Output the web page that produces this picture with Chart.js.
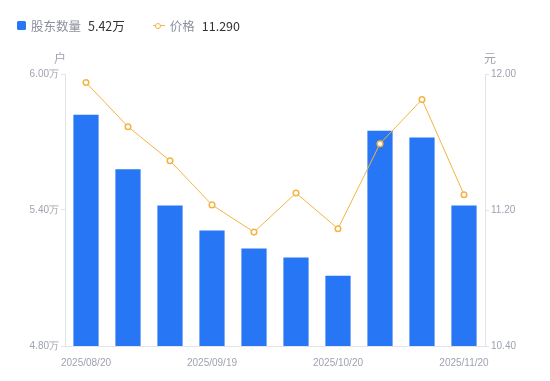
<!DOCTYPE html>
<html>
<head>
<meta charset="utf-8">
<script src="https://cdn.jsdelivr.net/npm/chart.js@4/dist/chart.umd.min.js"></script>
<style>
  html, body { margin: 0; padding: 0; background: #fff; }
  body { width: 550px; height: 381px; position: relative; overflow: hidden; font-family: "Noto Sans CJK SC", "Noto Sans", sans-serif; }
  #wrap { position: absolute; left: 0; top: 0; width: 550px; height: 381px; }
  .legend { position: absolute; top: 16px; left: 17px; font-size: 12.5px; display: flex; align-items: center; white-space: nowrap; }
  .legend .item { display: flex; align-items: center; margin-right: 28px; }
  .legend .sq { width: 9px; height: 9px; background: #2776f6; border-radius: 1.5px; margin-right: 5px; }
  .legend .ln { position: relative; width: 12px; height: 9px; margin-right: 5px; }
  .legend .ln::before { content: ""; position: absolute; left: 0; right: 0; top: 4px; height: 1px; background: #f5b342; }
  .legend .ln::after { content: ""; position: absolute; left: 2.5px; top: 1.5px; width: 4px; height: 4px; border: 1.5px solid #f5b342; border-radius: 50%; background: #fff; }
  .legend .name { color: #8c909c; margin-right: 7px; }
  .legend .val { color: #333; }
</style>
</head>
<body>
<div id="wrap"><canvas id="c" width="550" height="381"></canvas></div>
<div class="legend">
  <div class="item"><span class="sq"></span><span class="name">股东数量</span><span class="val" id="v1"></span></div>
  <div class="item"><span class="ln"></span><span class="name">价格</span><span class="val" id="v2"></span></div>
</div>
<script>
// 数据
const dates = ['2025/08/20', '2025/08/31', '2025/09/10', '2025/09/19', '2025/09/30',
               '2025/10/10', '2025/10/20', '2025/10/31', '2025/11/10', '2025/11/20'];
const holders = [5.82, 5.58, 5.42, 5.31, 5.23, 5.19, 5.11, 5.75, 5.72, 5.42]; // 万户
const prices = [11.95, 11.69, 11.49, 11.23, 11.07, 11.30, 11.09, 11.59, 11.85, 11.29];

const BLUE = '#2776f6';
const ORANGE = '#f5b342';
const TICK = '#9fa3b0';
const AXIS = '#e3e4e8';
const TICK_FONT = { size: 10, family: '"Liberation Sans", Arial, sans-serif' };

document.getElementById('v1').innerText = holders[holders.length - 1].toFixed(2) + '万';
document.getElementById('v2').innerText = prices[prices.length - 1].toFixed(3);

// 轴单位文字
const unitPlugin = {
    id: 'units',
    afterDraw(chart) {
        const ctx = chart.ctx;
        const a = chart.chartArea;
        ctx.save();
        ctx.font = '12px "Noto Sans CJK SC", sans-serif';
        ctx.fillStyle = TICK;
        ctx.textAlign = 'center';
        ctx.textBaseline = 'middle';
        ctx.fillText('户', a.left - 5, a.top - 16);
        ctx.fillText('元', a.right + 5, a.top - 16);
        ctx.restore();
    }
};

new Chart(document.getElementById('c'), {
    data: {
        labels: dates,
        datasets: [
            {
                type: 'line', data: prices, yAxisID: 'y2', order: 0,
                borderColor: ORANGE, borderWidth: 1, tension: 0,
                pointRadius: 2.8, pointBorderWidth: 1.5,
                pointBackgroundColor: '#fff', pointBorderColor: ORANGE
            },
            {
                type: 'bar', data: holders, yAxisID: 'y', order: 1,
                backgroundColor: BLUE, categoryPercentage: 0.6, barPercentage: 1
            }
        ]
    },
    options: {
        responsive: false,
        animation: false,
        layout: { padding: { top: 74, left: 0, right: 0, bottom: 0 } },
        plugins: { legend: { display: false }, tooltip: { enabled: false } },
        scales: {
            x: {
                grid: { display: false },
                border: { color: AXIS },
                ticks: {
                    autoSkip: false, maxRotation: 0, color: TICK, padding: 3,
                    font: TICK_FONT,
                    callback: (v, i) => i % 3 === 0 ? dates[i] : ''
                },
                afterFit: s => { s.height = 35; }
            },
            y: {
                position: 'left', min: 4.8, max: 6.0,
                grid: { drawOnChartArea: false, tickLength: 4, color: AXIS },
                border: { color: AXIS },
                ticks: {
                    stepSize: 0.6, color: TICK, padding: 2,
                    font: TICK_FONT,
                    callback: v => v.toFixed(2) + '万'
                },
                afterFit: s => { s.width = 65; }
            },
            y2: {
                position: 'right', min: 10.4, max: 12.0,
                grid: { drawOnChartArea: false, tickLength: 4, color: AXIS },
                border: { color: AXIS },
                ticks: {
                    stepSize: 0.8, color: TICK, padding: 2,
                    font: TICK_FONT,
                    callback: v => v.toFixed(2)
                },
                afterFit: s => { s.width = 65; }
            }
        }
    },
    plugins: [unitPlugin]
});
</script>
</body>
</html>
